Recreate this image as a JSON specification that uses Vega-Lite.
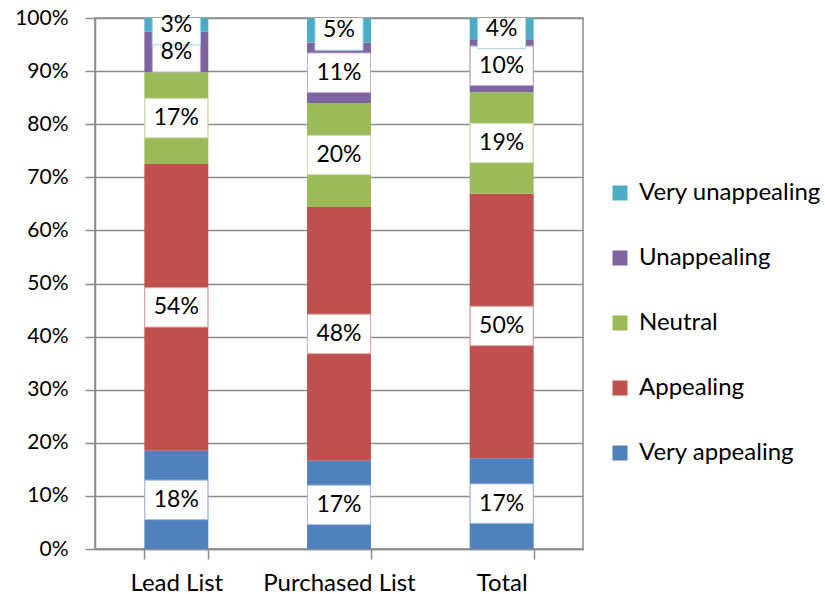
{
  "$schema": "https://vega.github.io/schema/vega-lite/v6.json",
  "width": 488,
  "height": 531,
  "autosize": "none",
  "padding": {"left": 95, "top": 18, "right": 242, "bottom": 45},
  "config": {
    "font": "Lato",
    "view": {"stroke": "#8c8c8c", "strokeWidth": 1.5}
  },
  "data": {
    "values": [
      {"list": "Lead List", "cat": "Very appealing", "rank": 1, "value": 18.5, "label": "18%"},
      {"list": "Lead List", "cat": "Appealing", "rank": 2, "value": 54.0, "label": "54%"},
      {"list": "Lead List", "cat": "Neutral", "rank": 3, "value": 17.3, "label": "17%"},
      {"list": "Lead List", "cat": "Unappealing", "rank": 4, "value": 7.6, "label": "8%"},
      {"list": "Lead List", "cat": "Very unappealing", "rank": 5, "value": 2.6, "label": "3%"},
      {"list": "Purchased List", "cat": "Very appealing", "rank": 1, "value": 16.6, "label": "17%"},
      {"list": "Purchased List", "cat": "Appealing", "rank": 2, "value": 47.8, "label": "48%"},
      {"list": "Purchased List", "cat": "Neutral", "rank": 3, "value": 19.6, "label": "20%"},
      {"list": "Purchased List", "cat": "Unappealing", "rank": 4, "value": 11.4, "label": "11%"},
      {"list": "Purchased List", "cat": "Very unappealing", "rank": 5, "value": 4.6, "label": "5%"},
      {"list": "Total", "cat": "Very appealing", "rank": 1, "value": 17.1, "label": "17%"},
      {"list": "Total", "cat": "Appealing", "rank": 2, "value": 49.8, "label": "50%"},
      {"list": "Total", "cat": "Neutral", "rank": 3, "value": 19.1, "label": "19%"},
      {"list": "Total", "cat": "Unappealing", "rank": 4, "value": 10.0, "label": "10%"},
      {"list": "Total", "cat": "Very unappealing", "rank": 5, "value": 4.0, "label": "4%"}
    ]
  },
  "encoding": {
    "x": {
      "field": "list",
      "type": "nominal",
      "sort": ["Lead List", "Purchased List", "Total"],
      "scale": {"paddingInner": 0.607, "paddingOuter": 0.3035},
      "axis": {
        "title": null,
        "labelAngle": 0,
        "labelFontSize": 24,
        "labelColor": "#000000",
        "labelPadding": 12,
        "labelLimit": 300,
        "tickBand": "extent",
        "tickSize": 10,
        "tickColor": "#8c8c8c",
        "tickWidth": 1.5,
        "domainColor": "#8c8c8c",
        "domainWidth": 1.5
      }
    },
    "y": {
      "field": "value",
      "type": "quantitative",
      "stack": "zero",
      "scale": {"domain": [0, 100], "nice": false},
      "axis": {
        "title": null,
        "values": [0, 10, 20, 30, 40, 50, 60, 70, 80, 90, 100],
        "labelExpr": "datum.value + '%'",
        "labelFontSize": 21,
        "labelColor": "#000000",
        "labelPadding": 17,
        "tickSize": 10,
        "tickColor": "#8c8c8c",
        "tickWidth": 1.5,
        "gridColor": "#8c8c8c",
        "gridWidth": 1.5,
        "domainColor": "#8c8c8c",
        "domainWidth": 1.5
      }
    },
    "order": {"field": "rank", "type": "quantitative"}
  },
  "layer": [
    {
      "mark": {"type": "bar"},
      "encoding": {
        "color": {
          "field": "cat",
          "type": "nominal",
          "scale": {
            "domain": ["Very appealing", "Appealing", "Neutral", "Unappealing", "Very unappealing"],
            "range": ["#4F81BD", "#C0504D", "#9BBB59", "#8064A2", "#4BACC6"]
          },
          "legend": {
            "title": null,
            "orient": "none",
            "legendX": 513,
            "legendY": 163,
            "values": ["Very unappealing", "Unappealing", "Neutral", "Appealing", "Very appealing"],
            "symbolType": "square",
            "symbolSize": 225,
            "symbolStrokeWidth": 0,
            "labelFontSize": 24,
            "labelColor": "#000000",
            "labelOffset": 7,
            "labelLimit": 300,
            "rowPadding": 41
          }
        }
      }
    },
    {
      "mark": {"type": "point", "filled": true, "fill": "#ffffff", "opacity": 1, "strokeWidth": 1, "clip": true},
      "encoding": {
        "y": {"field": "value", "type": "quantitative", "stack": "zero", "bandPosition": 0.5},
        "shape": {
          "condition": {"test": "length(datum.label) == 2", "value": "M-1,-0.833H1V0.833H-1Z"},
          "value": "M-1,-0.625H1V0.625H-1Z"
        },
        "size": {
          "condition": {"test": "length(datum.label) == 2", "value": 2304},
          "value": 3969
        },
        "stroke": {
          "field": "cat",
          "type": "nominal",
          "scale": {
            "domain": ["Very appealing", "Appealing", "Neutral", "Unappealing", "Very unappealing"],
            "range": ["#A7C0DE", "#DFA8A6", "#CDDDAC", "#BFB1D0", "#A5D5E2"]
          },
          "legend": null
        }
      }
    },
    {
      "mark": {"type": "text", "fontSize": 23, "color": "#000000", "baseline": "middle", "align": "center"},
      "encoding": {
        "y": {"field": "value", "type": "quantitative", "stack": "zero", "bandPosition": 0.5},
        "text": {"field": "label"}
      }
    }
  ]
}
